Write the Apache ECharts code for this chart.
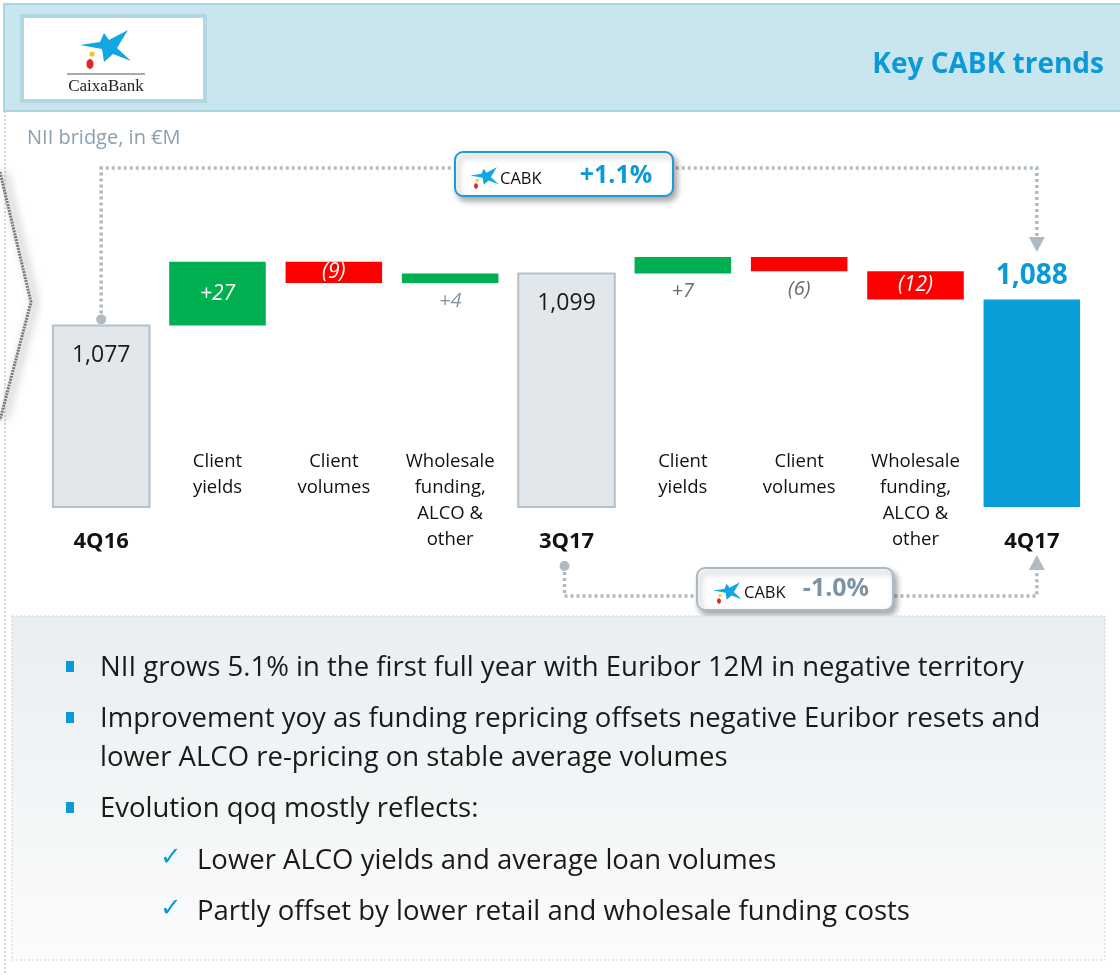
<!DOCTYPE html>
<html lang="en">
<head>
    <meta charset="UTF-8">
    <title>NII bridge</title>
    <script src="https://cdn.jsdelivr.net/npm/echarts@6/dist/echarts.min.js"></script>
    <style>
        html, body { margin: 0; padding: 0; background: #fff; }
        #chart { width: 1120px; height: 975px; }
    </style>
</head>
<body>
<div id="chart"></div>
<script>
    // categories along the bridge
    var categories = ['4Q16', 'Client\nyields', 'Client\nvolumes', 'Wholesale\nfunding,\nALCO &\nother',
        '3Q17', 'Client\nyields', 'Client\nvolumes', 'Wholesale\nfunding,\nALCO &\nother', '4Q17'];
    // totals are absolute values, the rest are changes
    var kinds = ['total', 'delta', 'delta', 'delta', 'total', 'delta', 'delta', 'delta', 'final'];
    var values = [1077, 27, -9, 4, 1099, 7, -6, -12, 1088];
    var valueLabels = ['1,077', '+27', '(9)', '+4', '1,099', '+7', '(6)', '(12)', '1,088'];
    var bullets = [
        'NII grows 5.1% in the first full year with Euribor 12M in negative territory',
        'Improvement yoy as funding repricing offsets negative Euribor resets and\nlower ALCO re-pricing on stable average volumes',
        'Evolution qoq mostly reflects:'
    ];
    var subBullets = [
        'Lower ALCO yields and average loan volumes',
        'Partly offset by lower retail and wholesale funding costs'
    ];
    var yoyText = '+1.1%';
    var qoqText = '-1.0%';

    var FONT = '"Open Sans", Lato, sans-serif';
    var AXIS_MIN = 1000;

    // build [index, low, high] for every bar
    var running = 0;
    var barData = values.map(function (v, i) {
        if (kinds[i] !== 'delta') {
            running = v;
            return [i, AXIS_MIN, v];
        }
        var lo = running, hi = running + v;
        running = hi;
        return [i, Math.min(lo, hi), Math.max(lo, hi)];
    });

    // label placement per bar: inside (white), below (grey), top-inside (dark), above (blue)
    function labelPos(i) {
        var k = kinds[i], v = values[i];
        if (k === 'total') return 'topInside';
        if (k === 'final') return 'above';
        if (Math.abs(v) >= 9) return 'inside';
        return 'below';
    }

    function renderBar(params, api) {
        var i = params.dataIndex;
        var lo = api.coord([api.value(0), api.value(1)]);
        var hi = api.coord([api.value(0), api.value(2)]);
        var w = api.size([1, 0])[0] * 0.83;
        var x = lo[0] - w / 2, y = hi[1], h = lo[1] - hi[1];
        var k = kinds[i], v = values[i];
        var fill, stroke = null, lw = 0;
        if (k === 'total') { fill = '#e1e7ea'; stroke = '#b4c1c9'; lw = 2; }
        else if (k === 'final') fill = '#0a9ed9';
        else fill = v > 0 ? '#00b050' : '#ff0000';
        var children = [{
            type: 'rect',
            shape: {x: x, y: y, width: w, height: h},
            style: {fill: fill, stroke: stroke, lineWidth: lw}
        }];
        var pos = labelPos(i);
        var txt = {text: valueLabels[i], x: lo[0], align: 'center', verticalAlign: 'middle', fontFamily: FONT};
        if (pos === 'topInside') {
            txt.y = y + 30; txt.fill = '#1a1a1a'; txt.fontSize = 23;
        } else if (pos === 'above') {
            txt.y = y - 23; txt.fill = '#0a9ad8'; txt.fontSize = 28; txt.fontWeight = 'bold';
        } else if (pos === 'inside') {
            txt.y = y + h / 2; txt.fill = '#ffffff'; txt.fontSize = 21; txt.fontStyle = 'italic';
        } else {
            txt.y = lo[1] + 18; txt.fill = i < 4 ? '#8194a5' : '#6b6b6b'; txt.fontSize = 20; txt.fontStyle = 'italic';
        }
        children.push({type: 'text', style: txt});
        return {type: 'group', children: children};
    }

    var chart = echarts.init(document.getElementById('chart'));

    var option = {
        animation: false,
        textStyle: {fontFamily: FONT},
        grid: {left: 43, right: 30, top: 224, bottom: 468},
        xAxis: [{
            type: 'category',
            data: categories,
            axisLine: {show: false},
            axisTick: {show: false},
            axisLabel: {
                margin: 24,
                interval: 0,
                fontSize: 22,
                fontWeight: 'bold',
                color: '#111',
                fontFamily: FONT,
                formatter: function (val, idx) { return kinds[idx] === 'delta' ? '' : val; }
            }
        }, {
            type: 'category',
            position: 'bottom',
            offset: -58,
            data: categories,
            axisLine: {show: false},
            axisTick: {show: false},
            axisLabel: {
                margin: 0,
                interval: 0,
                fontSize: 18.5,
                lineHeight: 26,
                color: '#111',
                fontFamily: FONT,
                formatter: function (val, idx) { return kinds[idx] === 'delta' ? val : ''; }
            }
        }],
        yAxis: {type: 'value', min: AXIS_MIN, max: 1120, show: false},
        series: [{
            type: 'custom',
            xAxisIndex: 0,
            renderItem: renderBar,
            encode: {x: 0, y: [1, 2]},
            data: barData,
            clip: false
        }]
    };
    chart.setOption(option);

    function px(i, v) { return chart.convertToPixel({gridIndex: 0}, [i, v]); }

    // stylised CaixaBank star (blue figure plus yellow and red dots), s = 1 is the header size
    function logoStar(cx, cy, s) {
        var pts = [[-30, -1], [-10, -4], [-6, -13], [-1, -6], [18, -16], [7, 2], [21, 15], [3, 8], [-6, 16], [-8, 3]];
        return [{
            type: 'polygon',
            shape: {points: pts.map(function (p) { return [cx + p[0] * s, cy + p[1] * s]; })},
            style: {fill: '#12a7e3'}
        }, {
            type: 'ellipse', shape: {cx: cx - 20 * s, cy: cy + 18 * s, rx: 3.6 * s, ry: 5 * s}, style: {fill: '#e3262a'}
        }, {
            type: 'circle', shape: {cx: cx - 18 * s, cy: cy + 8 * s, r: 2.6 * s}, style: {fill: '#f6c21c'}
        }];
    }

    var p0 = px(0, values[0]);
    var p4 = px(4, AXIS_MIN);
    var p8 = px(8, values[8]);
    var dotted = {stroke: '#aebbc4', lineWidth: 3.5, lineDash: [3, 3]};

    var graphics = [
        // left page line and chevron
        {type: 'line', shape: {x1: 5, y1: 111, x2: 5, y2: 975}, style: {stroke: '#c4ced6', lineWidth: 1.5, lineDash: [2, 2]}},
        {type: 'polyline', shape: {points: [[0, 172], [31, 302], [0, 420]]},
            style: {stroke: '#7a7a7a', lineWidth: 3, lineDash: [2, 1], fill: null, shadowBlur: 10, shadowColor: 'rgba(0,0,0,0.6)', shadowOffsetX: 4}},
        // header band
        {type: 'rect', shape: {x: 4, y: 4, width: 1120, height: 107}, style: {fill: '#c9e6ef', stroke: '#a9d5e2', lineWidth: 2}},
        {type: 'rect', shape: {x: 22, y: 16, width: 183, height: 85}, style: {fill: '#ffffff', stroke: '#b0d8e4', lineWidth: 4}},
        {type: 'line', shape: {x1: 67, y1: 74, x2: 145, y2: 74}, style: {stroke: '#555', lineWidth: 1}},
        {type: 'text', style: {text: 'CaixaBank', x: 106, y: 87, align: 'center', verticalAlign: 'middle',
                fontFamily: '"Liberation Serif", "DejaVu Serif", serif', fontSize: 17, fill: '#222'}},
        {type: 'group', children: logoStar(110, 46, 1)},
        {type: 'text', style: {text: 'Key CABK trends', x: 1104, y: 65, align: 'right', verticalAlign: 'middle',
                fontFamily: FONT, fontSize: 28, fontWeight: 'bold', fill: '#0a9ad8'}},
        {type: 'text', style: {text: 'NII bridge, in \u20acM', x: 27, y: 138, verticalAlign: 'middle',
                fontFamily: FONT, fontSize: 20, fill: '#8ba0b1'}},

        // year-on-year connector
        {type: 'polyline', shape: {points: [[p0[0], p0[1] - 6], [p0[0], 168], [p8[0] + 5, 168], [p8[0] + 5, 238]]}, style: dotted},
        {type: 'circle', shape: {cx: p0[0], cy: p0[1] - 6, r: 5}, style: {fill: '#aebbc4'}},
        {type: 'polygon', shape: {points: [[p8[0] - 3, 237], [p8[0] + 13, 237], [p8[0] + 5, 252]]}, style: {fill: '#aebbc4'}},
        {type: 'rect', shape: {x: 455, y: 152, width: 218, height: 44, r: 8},
            style: {fill: '#fff', stroke: '#1c9bd7', lineWidth: 2, shadowBlur: 6, shadowOffsetX: 3, shadowOffsetY: 4, shadowColor: 'rgba(0,0,0,0.35)'}},
        {type: 'group', children: logoStar(487, 176, 0.55)},
        {type: 'text', style: {text: 'CABK', x: 500, y: 179, verticalAlign: 'middle', fontFamily: FONT, fontSize: 16.5, fill: '#111'}},
        {type: 'text', style: {text: yoyText, x: 616, y: 176, align: 'center', verticalAlign: 'middle',
                fontFamily: FONT, fontSize: 25, fontWeight: 'bold', fill: '#0a9ad8'}},

        // quarter-on-quarter connector
        {type: 'polyline', shape: {points: [[p4[0] - 2, 566], [p4[0] - 2, 596], [p8[0] + 5, 596], [p8[0] + 5, 570]]}, style: dotted},
        {type: 'circle', shape: {cx: p4[0] - 2, cy: 566, r: 5}, style: {fill: '#aebbc4'}},
        {type: 'polygon', shape: {points: [[p8[0] - 3, 570], [p8[0] + 13, 570], [p8[0] + 5, 555]]}, style: {fill: '#aebbc4'}},
        {type: 'rect', shape: {x: 697, y: 568, width: 196, height: 42, r: 8},
            style: {fill: '#fff', stroke: '#a9b9c5', lineWidth: 2, shadowBlur: 6, shadowOffsetX: 3, shadowOffsetY: 4, shadowColor: 'rgba(0,0,0,0.35)'}},
        {type: 'group', children: logoStar(730, 591, 0.55)},
        {type: 'text', style: {text: 'CABK', x: 744, y: 593, verticalAlign: 'middle', fontFamily: FONT, fontSize: 16.5, fill: '#111'}},
        {type: 'text', style: {text: qoqText, x: 836, y: 589, align: 'center', verticalAlign: 'middle',
                fontFamily: FONT, fontSize: 25, fontWeight: 'bold', fill: '#7c93a5'}},

        // commentary panel
        {type: 'rect', shape: {x: 12, y: 616, width: 1093, height: 344},
            style: {
                fill: new echarts.graphic.LinearGradient(0, 0, 0, 1, [{offset: 0, color: '#e9eef1'}, {offset: 1, color: '#fbfcfc'}]),
                stroke: '#c7d1d8', lineWidth: 1, lineDash: [2, 2]
            }}
    ];

    var lineY = [667, 718, 808];
    bullets.forEach(function (t, i) {
        graphics.push({type: 'rect', shape: {x: 66, y: lineY[i] - 6, width: 8, height: 11}, style: {fill: '#0a9ad8'}});
        graphics.push({type: 'text', style: {text: t, x: 100, y: lineY[i] - 18, fontFamily: FONT, fontSize: 27.5,
                lineHeight: 39, fill: '#1a1a1a', verticalAlign: 'top'}});
    });
    var subY = [860, 911];
    subBullets.forEach(function (t, i) {
        graphics.push({type: 'text', style: {text: '\u2713', x: 160, y: subY[i] - 2, verticalAlign: 'middle',
                fontFamily: '"DejaVu Sans", sans-serif', fontSize: 26, fill: '#0a9ad8'}});
        graphics.push({type: 'text', style: {text: t, x: 197, y: subY[i] + 1, verticalAlign: 'middle',
                fontFamily: FONT, fontSize: 27.5, fill: '#1a1a1a'}});
    });

    chart.setOption({graphic: {elements: graphics}});
</script>
</body>
</html>
